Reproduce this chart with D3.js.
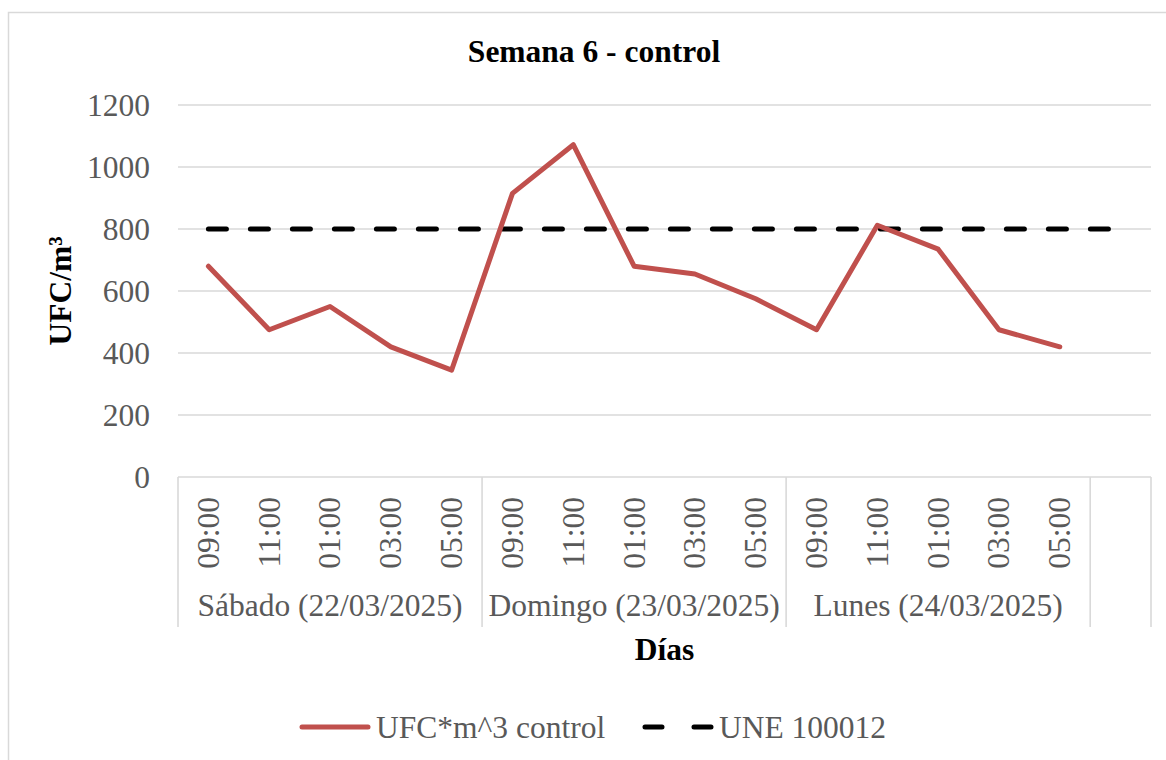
<!DOCTYPE html>
<html>
<head>
<meta charset="utf-8">
<script src="https://cdn.jsdelivr.net/npm/d3@7"></script>
<style>
  html, body { margin: 0; padding: 0; background: #fff; }
  svg { display: block; }
  text { font-family: "Liberation Serif", "Times New Roman", serif; }
</style>
</head>
<body>
<svg id="chart" width="1166" height="760"></svg>
<script>
// Days (outer category level) and sampling times (inner level)
const dias = ["Sábado (22/03/2025)", "Domingo (23/03/2025)", "Lunes (24/03/2025)"];
const horas = ["09:00", "11:00", "01:00", "03:00", "05:00"];
// One trailing empty slot after the last day
const slotVacio = [""];

// UFC per m^3 measured in the control room
const ufcControl = [680, 475, 550, 420, 345, 915, 1072, 680, 655, 575, 475, 812, 735, 475, 420];
// UNE 100012 reference limit (one value per slot, incl. the empty one)
const une100012 = [800, 800, 800, 800, 800, 800, 800, 800, 800, 800, 800, 800, 800, 800, 800, 800];

const yTicks = [0, 200, 400, 600, 800, 1000, 1200];

const titulo = "Semana 6 - control";
const ejeX = "Días";
const ejeY = "UFC/m³";
const leyenda = ["UFC*m^3 control", "UNE 100012"];

const FONT = 31.5;
const GRID = "#d9d9d9";
const TXT = "#595959";
const RED = "#c0504d";

const svg = d3.select("#chart");

// chart frame
svg.append("rect")
  .attr("x", 8.5).attr("y", 12.5)
  .attr("width", 1180).attr("height", 800)
  .attr("fill", "#fff").attr("stroke", GRID).attr("stroke-width", 1.5);

const plot = { left: 178, right: 1151, top: 105, bottom: 477 };

// slot keys: every day x every hour, then the empty slot
const slots = [];
dias.forEach((d, di) => horas.forEach((h, hi) => slots.push({ key: di + "-" + hi, hora: h, dia: di })));
slotVacio.forEach((h, i) => slots.push({ key: "extra-" + i, hora: h, dia: -1 }));

const x = d3.scaleBand()
  .domain(slots.map(s => s.key))
  .range([plot.left, plot.right])
  .padding(0);
const xc = i => x(slots[i].key) + x.bandwidth() / 2;

const y = d3.scaleLinear().domain([0, 1200]).range([plot.bottom, plot.top]);

// horizontal gridlines
svg.append("g").selectAll("line").data(yTicks).join("line")
  .attr("x1", plot.left).attr("x2", plot.right)
  .attr("y1", d => y(d)).attr("y2", d => y(d))
  .attr("stroke", GRID).attr("stroke-width", 1.6);

// y tick labels
svg.append("g").selectAll("text").data(yTicks).join("text")
  .attr("x", 150).attr("y", d => y(d)).attr("dy", "0.34em")
  .attr("text-anchor", "end")
  .attr("font-size", FONT).attr("fill", TXT)
  .text(d => d);

// multi-level category axis: separators between days
const catBottom = 627;
const separadores = [plot.left];
dias.forEach((d, di) => {
  separadores.push(x((di) + "-" + (horas.length - 1)) + x.bandwidth());
});
separadores.push(plot.right);
svg.append("g").selectAll("line").data(separadores).join("line")
  .attr("x1", d => d).attr("x2", d => d)
  .attr("y1", plot.bottom).attr("y2", catBottom)
  .attr("stroke", GRID).attr("stroke-width", 1.6);

// inner level: rotated time labels
svg.append("g").selectAll("text").data(slots).join("text")
  .attr("transform", (d, i) => `translate(${xc(i)},497) rotate(-90)`)
  .attr("dy", "0.33em")
  .attr("text-anchor", "end")
  .attr("font-size", FONT).attr("fill", TXT)
  .text(d => d.hora);

// outer level: day labels centred on their group
svg.append("g").selectAll("text").data(dias).join("text")
  .attr("x", (d, di) => (separadores[di] + separadores[di + 1]) / 2)
  .attr("y", 616)
  .attr("text-anchor", "middle")
  .attr("font-size", FONT).attr("fill", TXT)
  .text(d => d);

// UNE 100012 dashed limit line
const lineUne = d3.line().x((d, i) => xc(i)).y(d => y(d));
svg.append("path")
  .datum(une100012)
  .attr("d", lineUne)
  .attr("fill", "none").attr("stroke", "#000")
  .attr("stroke-width", 5).attr("stroke-linecap", "round")
  .attr("stroke-dasharray", "18,24");

// measured series
const lineUfc = d3.line().x((d, i) => xc(i)).y(d => y(d));
svg.append("path")
  .datum(ufcControl)
  .attr("d", lineUfc)
  .attr("fill", "none").attr("stroke", RED)
  .attr("stroke-width", 5).attr("stroke-linejoin", "round").attr("stroke-linecap", "round");

// title
svg.append("text")
  .attr("x", 594).attr("y", 62)
  .attr("text-anchor", "middle")
  .attr("font-size", FONT).attr("font-weight", "bold").attr("fill", "#000")
  .text(titulo);

// axis titles
svg.append("text")
  .attr("x", (plot.left + plot.right) / 2).attr("y", 660)
  .attr("text-anchor", "middle")
  .attr("font-size", FONT).attr("font-weight", "bold").attr("fill", "#000")
  .text(ejeX);

svg.append("text")
  .attr("transform", `translate(71,${(plot.top + plot.bottom) / 2}) rotate(-90)`)
  .attr("text-anchor", "middle")
  .attr("font-size", FONT).attr("font-weight", "bold").attr("fill", "#000")
  .text(ejeY);

// legend
const lg = svg.append("g");
lg.append("line")
  .attr("x1", 302).attr("x2", 368).attr("y1", 727).attr("y2", 727)
  .attr("stroke", RED).attr("stroke-width", 5).attr("stroke-linecap", "round");
lg.append("text")
  .attr("x", 376).attr("y", 738)
  .attr("font-size", FONT).attr("fill", TXT)
  .text(leyenda[0]);
lg.append("line")
  .attr("x1", 645).attr("x2", 711).attr("y1", 727).attr("y2", 727)
  .attr("stroke", "#000").attr("stroke-width", 5).attr("stroke-linecap", "round")
  .attr("stroke-dasharray", "17,32");
lg.append("text")
  .attr("x", 719).attr("y", 738)
  .attr("font-size", FONT).attr("fill", TXT)
  .text(leyenda[1]);
</script>
</body>
</html>
